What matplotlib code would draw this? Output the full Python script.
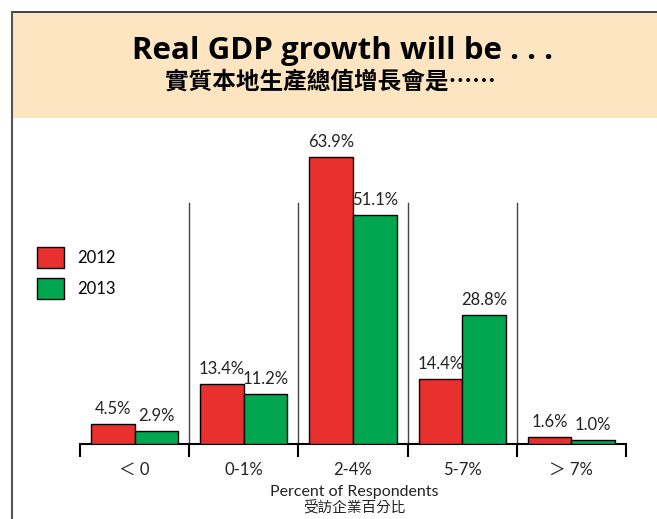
import matplotlib.pyplot as plt
from matplotlib.patches import Rectangle
from matplotlib.lines import Line2D

W, H = 657, 519

categories = ["＜ 0", "0-1%", "2-4%", "5-7%", "＞ 7%"]
share_2012 = [4.5, 13.4, 63.9, 14.4, 1.6]
share_2013 = [2.9, 11.2, 51.1, 28.8, 1.0]
series_names = ["2012", "2013"]

RED = "#E8302F"
GREEN = "#00A650"
HEADER = "#FDE5C2"

LATIN = ["Lato", "Noto Sans CJK TC", "DejaVu Sans"]
CJK = ["Noto Sans CJK TC", "DejaVu Sans"]
TXT = "#222222"


def fx(px):
    return px / W


def fy(py):
    return 1 - py / H


fig = plt.figure(figsize=(W / 100, H / 100), dpi=100)

# header band and frame
fig.patches.append(Rectangle((fx(12), fy(118)), fx(W - 12), (118 - 12) / H,
                             transform=fig.transFigure, facecolor=HEADER,
                             edgecolor="none", zorder=0))
fig.lines.append(Line2D([fx(12), 1], [fy(12), fy(12)], transform=fig.transFigure,
                        color=TXT, lw=1.2))
fig.lines.append(Line2D([fx(12), fx(12)], [fy(12), 0], transform=fig.transFigure,
                        color="#555555", lw=1.5))

fig.text(fx(342), fy(51), "Real GDP growth will be . . .", ha="center", va="center",
         fontsize=22.5, fontweight="bold", family=["Open Sans", "DejaVu Sans"])
fig.text(fx(330), fy(82), "實質本地生產總值增長會是……", ha="center", va="center",
         fontsize=17, fontweight="bold", family=CJK)

# plot area
px_per_pct = 4.49
ymax = 70
ax = fig.add_axes([fx(80), fy(444), fx(626 - 80), ymax * px_per_pct / H])
ax.set_xlim(-0.5, len(categories) - 0.5)
ax.set_ylim(0, ymax)

x = list(range(len(categories)))
bw = 0.4
b1 = ax.bar([i - bw / 2 for i in x], share_2012, width=bw, color=RED,
            edgecolor="black", linewidth=1, label=series_names[0], zorder=3)
b2 = ax.bar([i + bw / 2 for i in x], share_2013, width=bw, color=GREEN,
            edgecolor="black", linewidth=1, label=series_names[1], zorder=3)

for bars, vals in ((b1, share_2012), (b2, share_2013)):
    for rect, v in zip(bars, vals):
        ax.annotate(f"{v:.1f}%", (rect.get_x() + rect.get_width() / 2, v),
                    xytext=(0, 5), textcoords="offset points", ha="center",
                    va="bottom", fontsize=12, family=LATIN, color=TXT)

# separators between groups
sep_top = (443 - 202) / px_per_pct
for i in range(len(categories) - 1):
    ax.plot([i + 0.5, i + 0.5], [0, sep_top], color="#444444", lw=1, zorder=1)

for side in ("top", "right", "left"):
    ax.spines[side].set_visible(False)
ax.spines["bottom"].set_linewidth(1.5)
ax.set_yticks([])
ax.set_xticks([i - 0.5 for i in range(len(categories) + 1)])
ax.set_xticklabels([])
ax.tick_params(axis="x", which="major", length=9, width=1.5, direction="out")
ax.set_xticks(x, minor=True)
ax.set_xticklabels(categories, minor=True, fontsize=12, family=LATIN, color=TXT)
ax.tick_params(axis="x", which="minor", length=0, pad=13)

fig.text(fx(354), fy(492), "Percent of Respondents", ha="center", va="center",
         fontsize=11.5, family=LATIN, color=TXT)
fig.text(fx(354), fy(507), "受訪企業百分比", ha="center", va="center",
         fontsize=10.5, family=CJK, color=TXT)

fig.legend(handles=[b1, b2], labels=series_names, loc="upper left",
           bbox_to_anchor=(fx(22), fy(232)), frameon=False, handlelength=1.6,
           handleheight=1.6, labelspacing=0.55, handletextpad=0.8,
           prop={"family": LATIN, "size": 12})

fig.savefig("out.png", dpi=100)
